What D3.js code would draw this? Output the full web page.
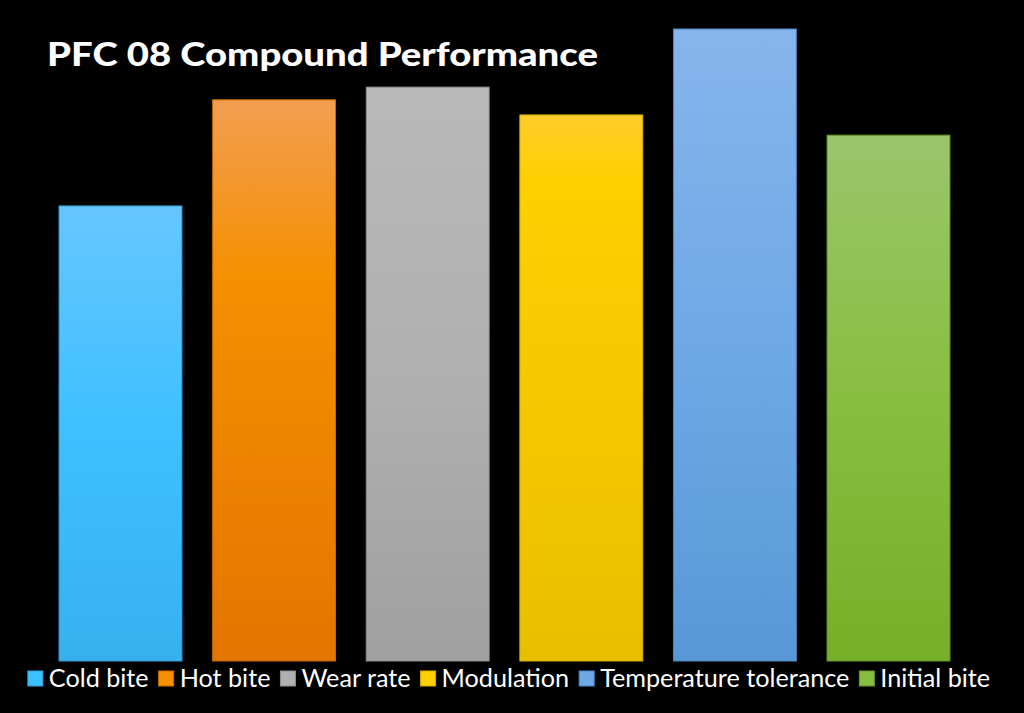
<!DOCTYPE html>
<html>
<head>
<meta charset="utf-8">
<script src="https://cdn.jsdelivr.net/npm/d3@7"></script>
<style>
  html, body { margin: 0; padding: 0; background: #000; }
  svg { display: block; }
</style>
</head>
<body>
<svg id="chart" width="1024" height="713"></svg>
<script>
// chart data (relative scores)
const categories = ["Cold bite", "Hot bite", "Wear rate", "Modulation", "Temperature tolerance", "Initial bite"];
const scores = [72, 88.8, 90.8, 86.4, 100, 83.2];
// top / middle / bottom tints of each bar gradient
const barTop = ["#66c6ff", "#f29e52", "#b9b9b9", "#ffcd2c", "#87b5eb", "#9bc56b"];
const barMid = ["#3dc0ff", "#f59000", "#b0b0b0", "#ffcf00", "#6ea9e6", "#88be40"];
const barBottom = ["#38b0ee", "#e47500", "#a0a0a0", "#e8bf00", "#5898d6", "#76af29"];
const barStroke = ["#2f9fd8", "#d06a00", "#8e8e8e", "#d4ae00", "#4a86c4", "#66992a"];
const midStop = [0.5, 0.32, 0.5, 0.12, 0.5, 0.5];
const title = "PFC 08 Compound Performance";

function drawChart() {
  const svg = d3.select("#chart");
  const width = 1024, height = 713;

  svg.append("rect").attr("width", width).attr("height", height).attr("fill", "#000");

  const x = d3.scaleBand()
    .domain(categories)
    .range([43.7, 965.3])
    .paddingInner(0.2)
    .paddingOuter(0.1);

  const y = d3.scaleLinear()
    .domain([0, 100])
    .range([661, 29]);

  // one vertical gradient per bar
  const defs = svg.append("defs");
  categories.forEach((c, i) => {
    const g = defs.append("linearGradient")
      .attr("id", "grad-" + i)
      .attr("x1", 0).attr("y1", 0).attr("x2", 0).attr("y2", 1);
    g.append("stop").attr("offset", 0).attr("stop-color", barTop[i]);
    g.append("stop").attr("offset", midStop[i]).attr("stop-color", barMid[i]);
    g.append("stop").attr("offset", 1).attr("stop-color", barBottom[i]);
  });

  svg.append("g")
    .selectAll("rect")
    .data(categories)
    .enter()
    .append("rect")
    .attr("x", d => x(d))
    .attr("y", (d, i) => y(scores[i]))
    .attr("width", x.bandwidth())
    .attr("height", (d, i) => y(0) - y(scores[i]))
    .attr("fill", (d, i) => `url(#grad-${i})`)
    .attr("stroke", (d, i) => barStroke[i])
    .attr("stroke-width", 1);

  // title
  svg.append("text")
    .attr("x", 47)
    .attr("y", 66)
    .attr("fill", "#fff")
    .attr("font-family", "Lato, 'DejaVu Sans', sans-serif")
    .attr("font-weight", 900)
    .attr("font-size", 32)
    .attr("textLength", 551)
    .attr("lengthAdjust", "spacingAndGlyphs")
    .text(title);

  // legend, laid out from measured text widths and centred
  const legend = svg.append("g");
  const items = legend.selectAll("g")
    .data(categories)
    .enter()
    .append("g");
  items.append("text")
    .attr("y", 687)
    .attr("fill", "#fff")
    .attr("font-family", "Lato, 'Noto Sans', sans-serif")
    .attr("font-size", 25.2)
    .text(d => d);
  const sq = 15, sqGap = 6, itemGap = 10;
  const widths = [];
  items.select("text").each(function () { widths.push(this.getComputedTextLength()); });
  const total = d3.sum(widths) + categories.length * (sq + sqGap) + (categories.length - 1) * itemGap;
  let cx = 509 - total / 2;
  items.each(function (d, i) {
    const item = d3.select(this);
    item.insert("rect", "text")
      .attr("x", cx)
      .attr("y", 671)
      .attr("width", sq)
      .attr("height", sq)
      .attr("fill", barMid[i])
      .attr("stroke", barStroke[i])
      .attr("stroke-width", 1);
    item.select("text").attr("x", cx + sq + sqGap);
    cx += sq + sqGap + widths[i] + itemGap;
  });
}

window.addEventListener("DOMContentLoaded", drawChart);
</script>
</body>
</html>
